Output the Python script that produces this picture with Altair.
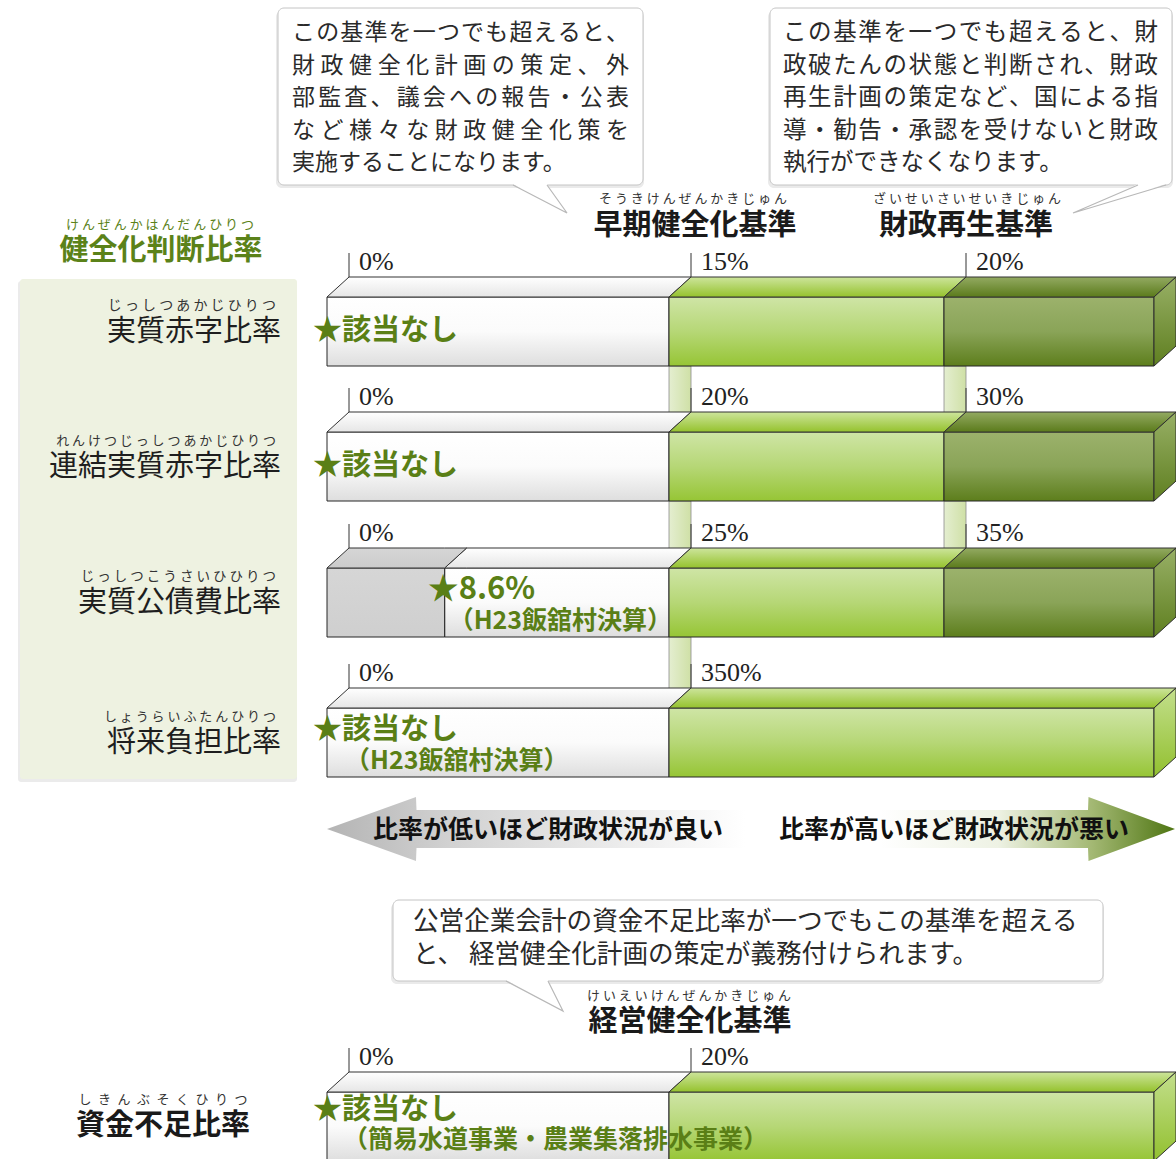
import altair as alt
import pandas as pd

# ---------------- chart values ----------------
ratio_names = ["実質赤字比率", "連結実質赤字比率", "実質公債費比率", "将来負担比率"]
ratio_ruby = ["じっしつあかじひりつ", "れんけつじっしつあかじひりつ",
              "じっしつこうさいひひりつ", "しょうらいふたんひりつ"]
early_std = [15, 20, 25, 350]          # 早期健全化基準 (%)
rebuild_std = [20, 30, 35, None]       # 財政再生基準 (%)
village_value = [None, None, 8.6, None]
village_note = ["★該当なし", "★該当なし", "★8.6%", "★該当なし"]
village_sub = ["", "", "（H23飯舘村決算）", "（H23飯舘村決算）"]

fund_name = "資金不足比率"
fund_ruby = "しきんぶそくひりつ"
fund_std = 20                          # 経営健全化基準 (%)
fund_note = "★該当なし"
fund_sub = "（簡易水道事業・農業集落排水事業）"

section_title = "健全化判断比率"
section_ruby = "けんぜんかはんだんひりつ"
std_titles = ["早期健全化基準", "財政再生基準", "経営健全化基準"]
std_rubies = ["そうきけんぜんかきじゅん", "ざいせいさいせいきじゅん", "けいえいけんぜんかきじゅん"]

callout_early = ["この基準を一つでも超えると、", "財政健全化計画の策定、外",
                 "部監査、議会への報告・公表", "など様々な財政健全化策を",
                 "実施することになります。"]
callout_rebuild = ["この基準を一つでも超えると、財", "政破たんの状態と判断され、財政",
                   "再生計画の策定など、国による指", "導・勧告・承認を受けないと財政",
                   "執行ができなくなります。"]
callout_fund = ["公営企業会計の資金不足比率が一つでもこの基準を超える",
                "と、 経営健全化計画の策定が義務付けられます。"]
arrow_texts = ["比率が低いほど財政状況が良い", "比率が高いほど財政状況が悪い"]

# ---------------- layout ----------------
W, H = 1176, 1159
XB = [327, 669, 944, 1154]
DX, DY, FH = 22, 20, 69
ROW_TOP = [297, 432, 568, 708]
FUND_TOP = 1092
JP = "Noto Sans CJK JP"
SERIF = "Liberation Serif"
GREEN_TXT = "#5a7f16"
RUBY_FS = [14, 13, 13.5, 13]

xs = alt.Scale(domain=[0, W], nice=False, zero=False)
ys = alt.Scale(domain=[0, H], nice=False, zero=False, reverse=True)


def X(f):
    return alt.X(f"{f}:Q", scale=xs, axis=None)


def Y(f):
    return alt.Y(f"{f}:Q", scale=ys, axis=None, stack=False)


def grad(stops, horizontal=False):
    return alt.LinearGradient(
        gradient="linear",
        stops=[alt.GradientStop(color=c, offset=o) for o, c in stops],
        x1=0, y1=0, x2=1 if horizontal else 0, y2=0 if horizontal else 1)


def rect_layer(rows, **kw):
    df = pd.DataFrame(rows, columns=["x0", "y0", "x1", "y1"])
    return alt.Chart(df).mark_rect(**kw).encode(
        x=X("x0"), x2=alt.X2("x1:Q"), y=Y("y0"), y2=alt.Y2("y1:Q"))


def poly_layer(rows, **kw):
    # vertical area polygons; points are sorted along x inside each pid
    df = pd.DataFrame(rows, columns=["pid", "ord", "x", "y", "y2"])
    return alt.Chart(df).mark_area(**kw).encode(
        x=X("x"), y=Y("y"), y2=alt.Y2("y2:Q"), detail="pid:N")


def line_layer(rows, **kw):
    df = pd.DataFrame(rows, columns=["pid", "ord", "x", "y"])
    return alt.Chart(df).mark_line(**kw).encode(
        x=X("x"), y=Y("y"), detail="pid:N", order="ord:Q")


def rule_layer(rows, **kw):
    df = pd.DataFrame(rows, columns=["x", "y0", "y1"])
    return alt.Chart(df).mark_rule(**kw).encode(x=X("x"), y=Y("y0"), y2=alt.Y2("y1:Q"))


def text_layer(rows, align="left", font=JP, weight="normal", color="#222"):
    df = pd.DataFrame(rows, columns=["x", "y", "t", "fs"])
    return alt.Chart(df).mark_text(align=align, baseline="middle", font=font,
                                   fontWeight=weight, color=color).encode(
        x=X("x"), y=Y("y"), text="t:N", size=alt.Size("fs:Q", scale=None))


def spaced(s, sep=" "):
    return sep.join(s)


def justified(line, x0, x1, y, fs):
    """place each full-width character so that the line fills x0..x1"""
    n = len(line)
    step = (x1 - x0 - fs) / (n - 1)
    return [(x0 + fs / 2 + k * step, y, ch, fs) for k, ch in enumerate(line)]


def tri_points(pid, pts):
    """triangle as vertical area: pts = three (x, y) vertices"""
    pts = sorted(pts)
    (ax, ay), (bx, by), (cx, cy) = pts
    t = (bx - ax) / (cx - ax)
    yo = ay + t * (cy - ay)
    return [(pid, 0, ax, ay, ay), (pid, 1, bx, by, yo), (pid, 2, cx, cy, cy)]


layers = []

# ---------------- callout boxes ----------------
boxes = [(278, 8, 643, 185), (770, 8, 1172, 185), (393, 900, 1103, 981)]
tails = [((513, 184), (547, 184), (567, 213)),
         ((1138, 184), (1166, 184), (1073, 213)),
         ((506, 980), (548, 980), (563, 1011))]
layers.append(rect_layer([(a - 2, b + 3, c + 1, d + 3) for a, b, c, d in boxes],
                         fill="#d6d6d6", opacity=0.5, cornerRadius=6))
layers.append(rect_layer(boxes, fill="white", stroke="#c4c4c4", strokeWidth=1, cornerRadius=6))
tri_rows, tail_lines = [], []
for k, (A, B, C) in enumerate(tails):
    tri_rows += tri_points(f"t{k}", [A, B, C])
    tail_lines += [(f"t{k}", 0, A[0], A[1] + 1), (f"t{k}", 1, C[0], C[1]), (f"t{k}", 2, B[0], B[1] + 1)]
layers.append(poly_layer(tri_rows, fill="white", strokeWidth=0))
layers.append(line_layer(tail_lines, color="#b8b8b8", strokeWidth=1.2))

jt, ct = [], []
for k, s in enumerate(callout_early):
    yk = 33 + 32.5 * k
    if k < len(callout_early) - 1:
        jt += justified(s, 292, 629, yk, 23)
    else:
        ct.append((292, yk, s, 23))
for k, s in enumerate(callout_rebuild):
    yk = 33 + 32.5 * k
    if k < len(callout_rebuild) - 1:
        jt += justified(s, 783, 1158, yk, 23.5)
    else:
        ct.append((783, yk, s, 23.5))
for k, s in enumerate(callout_fund):
    ct.append((413, 922 + 33 * k, s, 25.6))
layers.append(text_layer(jt, align="center", color="#2a2a2a"))
layers.append(text_layer(ct, color="#2a2a2a"))

# ---------------- headings ----------------
layers.append(text_layer([(695, 226, std_titles[0], 29), (966, 226, std_titles[1], 29),
                          (690, 1022, std_titles[2], 29), (163, 1126, fund_name, 29)],
                         align="center", weight="bold", color="#1a1a1a"))
layers.append(text_layer([(693, 199, spaced(std_rubies[0]), 13), (967, 199, spaced(std_rubies[1]), 13),
                          (689, 996, spaced(std_rubies[2]), 13),
                          (163, 1100, spaced(fund_ruby, "\u2002"), 13)],
                         align="center", color="#333"))
layers.append(text_layer([(161, 251, section_title, 29)], align="center", weight="bold", color="#5b8219"))
layers.append(text_layer([(160, 225, spaced(section_ruby), 13)], align="center", color="#5b8219"))

# ---------------- left panel ----------------
layers.append(rect_layer([(18, 281, 297, 782)], fill="#d2d2d2", opacity=0.45, cornerRadius=3))
layers.append(rect_layer([(20, 279, 297, 779)], fill="#eef2e1", cornerRadius=3))
lab = [(281, ROW_TOP[i] + 35, ratio_names[i], 29) for i in range(4)]
rub = [(276, ROW_TOP[i] + 9, spaced(ratio_ruby[i]), RUBY_FS[i]) for i in range(4)]
layers.append(text_layer(lab, align="right", color="#1e1e1e"))
layers.append(text_layer(rub, align="right", color="#333"))

# ---------------- 3D bars ----------------
fronts = {"white": [], "gray": [], "green": [], "dgreen": []}
tops = {"white": [], "gray": [], "green": [], "dgreen": []}
sides = {"green": [], "dgreen": []}
pillars, ticks, plabels = [], [], []


def add_box(pid, F, a, b, kind):
    fronts[kind].append((a, F, b, F + FH))
    tops[kind] += [(pid, 0, a, F, F), (pid, 1, a + DX, F - DY, F),
                   (pid, 2, b, F - DY, F), (pid, 3, b + DX, F - DY, F - DY)]


def add_side(pid, F, kind):
    sides[kind] += [(pid, 0, XB[3], F, F + FH), (pid, 1, XB[3] + DX, F - DY, F + FH - DY)]


def add_ticks(F, xlist, labels):
    yb = F - DY
    for xx, lb in zip(xlist, labels):
        ticks.append((xx + DX, yb - 24, yb))
        plabels.append((xx + DX + 10, yb - 15, lb, 26))


for i in range(4):
    F = ROW_TOP[i]
    v = village_value[i]
    if v is not None:
        pos = XB[0] + v / early_std[i] * (XB[1] - XB[0])
        add_box(f"g{i}", F, XB[0], pos, "gray")
        add_box(f"w{i}", F, pos, XB[1], "white")
    else:
        add_box(f"w{i}", F, XB[0], XB[1], "white")
    if rebuild_std[i] is not None:
        add_box(f"l{i}", F, XB[1], XB[2], "green")
        add_box(f"d{i}", F, XB[2], XB[3], "dgreen")
        add_side(f"s{i}", F, "dgreen")
        add_ticks(F, [XB[0], XB[1], XB[2]], ["0%", f"{early_std[i]}%", f"{rebuild_std[i]}%"])
    else:
        add_box(f"l{i}", F, XB[1], XB[3], "green")
        add_side(f"s{i}", F, "green")
        add_ticks(F, [XB[0], XB[1]], ["0%", f"{early_std[i]}%"])
    if i < 3:
        nxt = ROW_TOP[i + 1]
        pillars.append((XB[1], F + FH, XB[1] + DX, nxt - DY + 2))
        if rebuild_std[i] is not None and rebuild_std[i + 1] is not None:
            pillars.append((XB[2], F + FH, XB[2] + DX, nxt - DY + 2))

# fund bar
add_box("wf", FUND_TOP, XB[0], XB[1], "white")
add_box("lf", FUND_TOP, XB[1], XB[3], "green")
add_side("sf", FUND_TOP, "green")
add_ticks(FUND_TOP, [XB[0], XB[1]], ["0%", f"{fund_std}%"])

layers.append(rect_layer(pillars, fill=grad([(0, "#e4eed0"), (1, "#cfe0a6")], horizontal=True),
                         stroke="#8a8a8a", strokeWidth=0.8))

front_fill = {
    "white": grad([(0, "#ffffff"), (0.5, "#fbfbfb"), (1, "#dedede")]),
    "gray": grad([(0, "#d6d6d6"), (1, "#cfcfcf")]),
    "green": grad([(0, "#cfe5a6"), (0.5, "#b6d776"), (1, "#96c535")]),
    "dgreen": grad([(0, "#9cb26c"), (0.5, "#8aa458"), (1, "#5d7e1c")]),
}
top_fill = {
    "white": grad([(0, "#ffffff"), (1, "#e6e6e6")]),
    "gray": grad([(0, "#d6d6d6"), (1, "#cccccc")]),
    "green": grad([(0, "#cde59c"), (1, "#95c22d")]),
    "dgreen": grad([(0, "#93aa62"), (1, "#5b7b1b")]),
}
side_fill = {
    "green": grad([(0, "#c3df8c"), (1, "#92c02f")]),
    "dgreen": grad([(0, "#98b066"), (1, "#5f7f20")]),
}
for kind in ["white", "gray", "green", "dgreen"]:
    layers.append(rect_layer(fronts[kind], fill=front_fill[kind], stroke="#262626", strokeWidth=1))
    layers.append(poly_layer(tops[kind], fill=top_fill[kind], stroke="#333333", strokeWidth=1))
for kind in ["green", "dgreen"]:
    if sides[kind]:
        layers.append(poly_layer(sides[kind], fill=side_fill[kind], stroke="#2e2e2e", strokeWidth=1))

layers.append(rule_layer(ticks, color="#333", strokeWidth=1))
layers.append(text_layer(plabels, font=SERIF, color="#222"))

# ---------------- bar annotations ----------------
big, small = [], []
for i in range(4):
    F = ROW_TOP[i]
    v = village_value[i]
    if v is not None:
        pos = XB[0] + v / early_std[i] * (XB[1] - XB[0])
        nx, sx, fs = pos - 17, pos + 4, 31
    else:
        nx, sx, fs = 313, 345, 29
    if village_sub[i]:
        big.append((nx, F + 22, village_note[i], fs))
        small.append((sx, F + 53, village_sub[i], 25))
    else:
        big.append((nx, F + 34, village_note[i], fs))
big.append((313, FUND_TOP + 18, fund_note, 29))
small.append((343, FUND_TOP + 48, fund_sub, 25))
layers.append(text_layer(big, weight="bold", color=GREEN_TXT))
layers.append(text_layer(small, weight="bold", color=GREEN_TXT))

# ---------------- arrows ----------------
left_arrow = [("la", 0, 327, 829, 829), ("la", 1, 416, 797, 861),
              ("la", 2, 416.5, 810, 848), ("la", 3, 745, 810, 848)]
right_arrow = [("ra", 0, 880, 810, 848), ("ra", 1, 1088, 810, 848),
               ("ra", 2, 1088.5, 797, 861), ("ra", 3, 1175, 829, 829)]
layers.append(poly_layer(left_arrow, fill=grad([(0, "#b4b4b4"), (0.3, "#d2d2d2"), (1, "#ffffff")],
                                               horizontal=True)))
layers.append(poly_layer(right_arrow, fill=grad([(0, "#ffffff"), (0.4, "#eef2e4"), (0.72, "#a3b873"),
                                                 (1, "#4e7512")], horizontal=True)))
layers.append(text_layer([(548, 830, arrow_texts[0], 25), (954, 830, arrow_texts[1], 25)],
                         align="center", weight="bold", color="#111"))

chart = alt.layer(*layers).properties(
    width=W, height=H, padding=0, background="white",
    autosize=alt.AutoSizeParams(type="none"),
).configure_view(stroke="transparent")

chart.save("out.html", embed_options={"renderer": "svg", "actions": False})
